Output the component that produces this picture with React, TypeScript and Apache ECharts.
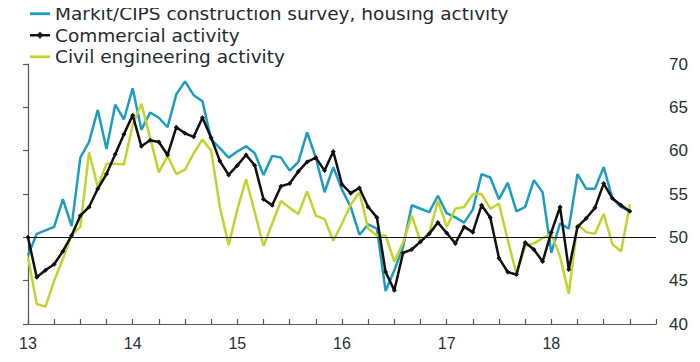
import React, { useEffect, useRef } from "react";
import * as echarts from "echarts";

// Monthly index, Jan 2013 = 0
const yearLabels = ["13", "14", "15", "16", "17", "18"];
const yTicks = [40, 45, 50, 55, 60, 65, 70];

const seriesNames = [
  "Markit/CIPS construction survey, housing activity",
  "Commercial activity",
  "Civil engineering activity",
];

const housing = [
  47.9, 50.4, 50.8, 51.2, 54.4, 51.3, 59.2, 61.0, 64.7, 60.2, 65.3, 63.6,
  67.2, 62.4, 64.4, 63.8, 62.7, 66.5, 68.0, 66.4, 65.7, 61.3, 60.3, 59.2,
  59.9, 60.5, 59.7, 57.2, 59.4, 59.2, 57.7, 58.7, 62.1, 59.2, 55.2, 58.1,
  55.5, 53.5, 50.3, 51.5, 51.0, 43.8, 46.2, 48.9, 53.7, 53.3, 52.9, 54.8,
  52.8, 52.3, 51.7, 53.2, 57.3, 56.9, 54.4, 56.3, 53.0, 53.5, 56.6, 55.2,
  48.2, 51.6, 51.0, 57.3, 55.6, 55.6, 58.1, 54.5, 53.5, 53.0,
];

const commercial = [
  50.0, 45.4, 46.2, 46.9, 48.4, 50.2, 52.5, 53.5, 55.6, 57.3, 59.6, 61.9,
  64.1, 60.5, 61.2, 61.0, 59.5, 62.7, 62.0, 61.6, 63.8, 61.5, 58.8, 57.2,
  58.3, 59.5, 58.3, 54.4, 53.7, 55.9, 56.2, 57.6, 58.7, 59.2, 57.7, 59.9,
  56.1, 55.1, 55.7, 53.5, 52.3, 46.0, 43.9, 48.2, 48.6, 49.5, 50.4, 51.7,
  50.5, 49.3, 51.2, 50.6, 53.7, 52.3, 47.6, 46.0, 45.7, 49.4, 48.6, 47.2,
  50.6, 53.5, 46.3, 51.2, 52.2, 53.4, 56.2, 54.5, 53.7, 53.0,
];

const civil = [
  47.7, 42.3, 42.0, 45.0, 47.5, 50.3, 51.2, 59.8, 55.8, 58.5, 58.5, 58.4,
  63.0, 65.4, 61.5, 57.5, 59.4, 57.3, 57.8, 59.7, 61.3, 60.0, 53.5, 49.1,
  53.2, 56.7, 52.9, 49.0, 51.6, 54.2, 53.4, 52.7, 55.3, 52.5, 52.1, 49.6,
  51.6, 53.8, 55.2, 51.0, 50.2, 50.2, 47.2, 49.4, 52.5, 49.5, 50.5, 54.2,
  51.2, 53.3, 53.5, 55.0, 55.0, 53.3, 53.9, 49.7, 45.8, 49.0, 49.3, 49.9,
  50.4, 47.8, 43.5, 51.5, 50.6, 50.4, 52.7, 49.2, 48.4, 53.8,
];

const toPts = (arr: number[]) => arr.map((v, i) => [i, v]);

const lineIcon = "path://M0,4.6 H20 V7.4 H0 Z";
const markerLineIcon =
  "path://M0,4.8 H20 V7.2 H0 Z M10,2.5 L13.5,6 L10,9.5 L6.5,6 Z";

export default function App() {
  const ref = useRef<HTMLDivElement>(null);
  useEffect(() => {
    if (!ref.current) return;
    const chart = echarts.init(ref.current, undefined, { renderer: "svg" });
    const axisColor = "#555";
    const textColor = "#26302f";
    chart.setOption({
      animation: false,
      backgroundColor: "#ffffff",
      grid: { left: 28, right: 44, top: 64, bottom: 38, containLabel: false },
      legend: {
        data: [
          { name: seriesNames[0], icon: lineIcon },
          { name: seriesNames[1], icon: markerLineIcon },
          { name: seriesNames[2], icon: lineIcon },
        ],
        orient: "vertical",
        left: 30,
        top: 3,
        padding: 0,
        itemWidth: 20,
        itemHeight: 12,
        itemGap: 0,
        selectedMode: false,
        textStyle: {
          fontSize: 18.5,
          lineHeight: 21.5,
          color: "#1f2b2b",
          fontFamily: "'DejaVu Sans', 'Open Sans', sans-serif",
        },
      },
      xAxis: {
        type: "value",
        min: 0,
        max: 72,
        interval: 3,
        axisLine: { show: true, lineStyle: { color: axisColor, width: 1.2 } },
        axisTick: { show: true, inside: true, length: 5, lineStyle: { color: axisColor, width: 1.2 } },
        splitLine: { show: false },
        axisLabel: {
          margin: 11,
          fontSize: 16,
          color: textColor,
          fontFamily: "'Liberation Sans', Arial, sans-serif",
          formatter: (v: number) =>
            v % 12 === 0 && v / 12 < yearLabels.length ? yearLabels[v / 12] : "",
        },
      },
      yAxis: {
        type: "value",
        position: "right",
        min: yTicks[0],
        max: yTicks[yTicks.length - 1],
        interval: 5,
        axisLine: { show: true, lineStyle: { color: axisColor, width: 1.2 } },
        axisTick: { show: true, inside: true, length: 5, lineStyle: { color: axisColor, width: 1.2 } },
        splitLine: { show: false },
        axisLabel: {
          margin: 13,
          fontSize: 17,
          color: textColor,
          fontFamily: "'Liberation Sans', Arial, sans-serif",
        },
      },
      series: [
        {
          name: seriesNames[0],
          type: "line",
          data: toPts(housing),
          showSymbol: false,
          symbol: "none",
          lineStyle: { color: "#1e9bc3", width: 2.5 },
          itemStyle: { color: "#1e9bc3" },
          z: 2,
          markLine: {
            silent: true,
            symbol: "none",
            label: { show: false },
            lineStyle: { color: "#111", width: 1, type: "solid" },
            data: [{ yAxis: 50 }],
          },
        },
        {
          name: seriesNames[2],
          type: "line",
          data: toPts(civil),
          showSymbol: false,
          symbol: "none",
          lineStyle: { color: "#c2d330", width: 2.5 },
          itemStyle: { color: "#c2d330" },
          z: 3,
        },
        {
          name: seriesNames[1],
          type: "line",
          data: toPts(commercial),
          symbol: "diamond",
          symbolSize: 5,
          showSymbol: true,
          lineStyle: { color: "#111", width: 2.5 },
          itemStyle: { color: "#111" },
          z: 4,
        },
      ],
    });
    return () => chart.dispose();
  }, []);
  return <div ref={ref} style={{ width: 700, height: 362, margin: -8 }} />;
}
